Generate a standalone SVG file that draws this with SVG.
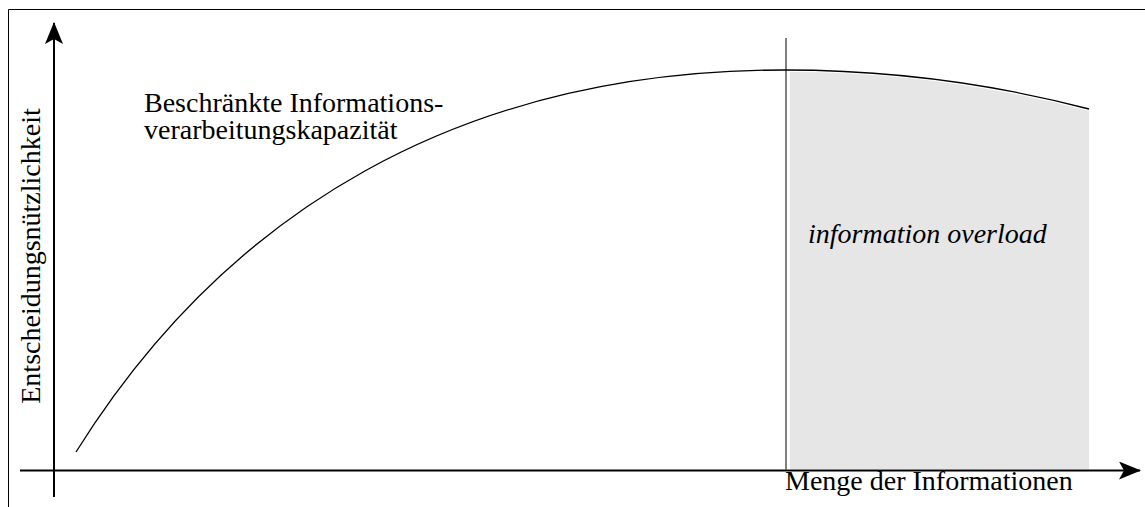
<svg xmlns="http://www.w3.org/2000/svg" width="1145" height="507" viewBox="0 0 1145 507">
<style>
.t{font-family:"Liberation Serif","Times New Roman",serif;font-size:28px;fill:#000}
.ax{stroke:#000;stroke-width:2;fill:none}
.frame{stroke:#000;stroke-width:1;fill:none}
</style>
<defs>
<marker id="ah" viewBox="0 0 22 18" refX="21" refY="9" markerWidth="22" markerHeight="18" markerUnits="userSpaceOnUse" orient="auto">
<path d="M0,0 L22,9 L0,18 L5,9 Z" fill="#000"/>
</marker>
</defs>
<rect width="1145" height="507" fill="#fff"/>
<g id="frame">
<path class="frame" d="M8.5,507 V9.5 H1145"/>
</g>
<g id="overload-area">
<path d="M790,72 Q940,72 1089,111 V469 H790 Z" fill="#e6e6e6"/>
</g>
<g id="connectors">
<line class="ax" x1="54" y1="497" x2="54" y2="23" marker-end="url(#ah)"/>
<line class="ax" x1="20" y1="470.5" x2="1140" y2="470.5" marker-end="url(#ah)"/>
<line x1="786" y1="38" x2="786" y2="470" stroke="#555" stroke-width="1.5"/>
<path d="M76,452 C226,212 460,70 785,70 Q940,70 1089,109" fill="none" stroke="#000" stroke-width="1.3"/>
</g>
<g id="label-capacity">
<text class="t" x="144" y="112">Beschränkte Informations-</text>
<text class="t" x="144" y="139">verarbeitungskapazität</text>
</g>
<g id="label-overload">
<text class="t" x="808" y="243" font-style="italic">information overload</text>
</g>
<g id="label-x">
<text class="t" x="785" y="490">Menge der Informationen</text>
</g>
<g id="label-y">
<text class="t" transform="translate(39.5,256) rotate(-90)" text-anchor="middle">Entscheidungsnützlichkeit</text>
</g>
</svg>
